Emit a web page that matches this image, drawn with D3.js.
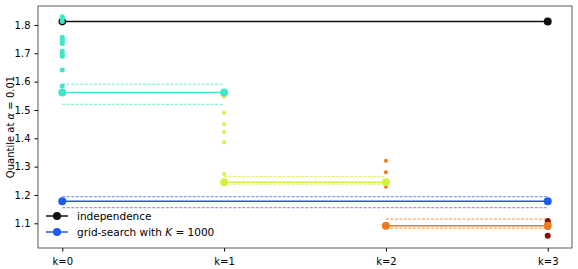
<!DOCTYPE html>
<html>
<head>
<meta charset="utf-8">
<style>
body { margin: 0; background: #fff; }
text { font-family: "DejaVu Sans", sans-serif; }
</style>
</head>
<body>
<script src="https://cdn.jsdelivr.net/npm/d3@7"></script>
<script>
'use strict'

const w = 578
const h = 269
const margin = { top: 6, right: 6, bottom: 21, left: 38 }

const kLabels = ['k=0', 'k=1', 'k=2', 'k=3']
const stepColors = ['#3ee8c6', '#d2f23c', '#f07a1e', '#8a0c04']

// scatter samples per k
const samples = [
  [1.829, 1.822, 1.812, 1.757, 1.750, 1.742, 1.735, 1.707, 1.697, 1.690, 1.641, 1.585],
  [1.547, 1.490, 1.450, 1.423, 1.386, 1.274],
  [1.321, 1.280, 1.229],
  [1.108, 1.098, 1.088, 1.056]
]

// step levels between k and k+1, with band
const stepLevel = [1.562, 1.245, 1.0915]
const stepUpper = [1.591, 1.265, 1.115]
const stepLower = [1.520, 1.238, 1.083]

const independence = 1.812
const gridSearch = 1.178
const gridUpper = 1.194
const gridLower = 1.155

const yTicks = [1.1, 1.2, 1.3, 1.4, 1.5, 1.6, 1.7, 1.8]

const svg = d3.select('body').append('svg')
  .attr('width', w)
  .attr('height', h)

const x = d3.scaleLinear()
  .domain([-0.15, 3.15])
  .range([margin.left, w - margin.right])

const y = d3.scaleLinear()
  .domain([1.0128, 1.867])
  .range([h - margin.bottom, margin.top])

// axes
svg.append('g')
  .attr('transform', `translate(0,${h - margin.bottom})`)
  .call(d3.axisBottom(x).tickValues([0, 1, 2, 3]).tickFormat(d => kLabels[d]).tickSizeOuter(0).tickSize(3.5))
  .call(g => g.select('.domain').remove())
  .selectAll('text').attr('font-size', 10).attr('dy', '1.05em')

svg.append('g')
  .attr('transform', `translate(${margin.left},0)`)
  .call(d3.axisLeft(y).tickValues(yTicks).tickFormat(d3.format('.1f')).tickSizeOuter(0).tickSize(3.5))
  .call(g => g.select('.domain').remove())
  .selectAll('text').attr('font-size', 10).attr('dx', '-0.1em')

svg.append('rect')
  .attr('x', margin.left)
  .attr('y', margin.top)
  .attr('width', w - margin.left - margin.right)
  .attr('height', h - margin.top - margin.bottom)
  .attr('fill', 'none')
  .attr('stroke', '#333')
  .attr('stroke-width', 0.8)

// y label
svg.append('text')
  .attr('transform', `translate(14,${(margin.top + h - margin.bottom) / 2}) rotate(-90)`)
  .attr('text-anchor', 'middle')
  .attr('font-size', 10)
  .call(t => {
    t.append('tspan').text('Quantile at ')
    t.append('tspan').attr('font-style', 'italic').text('α')
    t.append('tspan').text(' = 0.01')
  })

const plot = svg.append('g')

// independence
plot.append('line')
  .attr('x1', x(0)).attr('x2', x(3))
  .attr('y1', y(independence)).attr('y2', y(independence))
  .attr('stroke', '#111').attr('stroke-width', 1.5)
plot.selectAll('circle.ind')
  .data([0, 3])
  .enter().append('circle')
  .attr('cx', d => x(d)).attr('cy', y(independence))
  .attr('r', d => d === 0 ? 3.8 : 4).attr('fill', '#111')

// grid-search band
const blue = '#1a5cf0'
;[gridUpper, gridLower].forEach(v => {
  plot.append('line')
    .attr('x1', x(0)).attr('x2', x(3))
    .attr('y1', y(v)).attr('y2', y(v))
    .attr('stroke', blue).attr('stroke-opacity', 0.7)
    .attr('stroke-width', 1).attr('stroke-dasharray', '3,1.5')
})
plot.append('line')
  .attr('x1', x(0)).attr('x2', x(3))
  .attr('y1', y(gridSearch)).attr('y2', y(gridSearch))
  .attr('stroke', blue).attr('stroke-width', 1.5)
plot.selectAll('circle.grid')
  .data([0, 3])
  .enter().append('circle')
  .attr('cx', d => x(d)).attr('cy', y(gridSearch))
  .attr('r', 4).attr('fill', blue)

// scatter samples
samples.forEach((vals, k) => {
  plot.selectAll(null)
    .data(vals)
    .enter().append('circle')
    .attr('cx', x(k)).attr('cy', d => y(d))
    .attr('r', k === 3 ? 3 : k === 0 ? 2.5 : 2)
    .attr('fill', stepColors[k])
})

// steps
stepLevel.forEach((lvl, k) => {
  const c = stepColors[k]
  ;[stepUpper[k], stepLower[k]].forEach(v => {
    plot.append('line')
      .attr('x1', x(k)).attr('x2', x(k + 1))
      .attr('y1', y(v)).attr('y2', y(v))
      .attr('stroke', c).attr('stroke-opacity', 0.8)
      .attr('stroke-width', 1).attr('stroke-dasharray', '3,1.5')
  })
  plot.append('line')
    .attr('x1', x(k)).attr('x2', x(k + 1))
    .attr('y1', y(lvl)).attr('y2', y(lvl))
    .attr('stroke', c).attr('stroke-width', 1.5)
  plot.selectAll(null)
    .data([k, k + 1])
    .enter().append('circle')
    .attr('cx', d => x(d)).attr('cy', y(lvl))
    .attr('r', 4).attr('fill', c)
})

// legend
const legend = svg.append('g').attr('transform', `translate(${margin.left + 8},0)`)
const legendItems = [
  { color: '#111', y: 216, label: t => t.append('tspan').text('independence') },
  { color: blue, y: 232, label: t => {
    t.append('tspan').text('grid-search with ')
    t.append('tspan').attr('font-style', 'italic').text('K')
    t.append('tspan').text(' = 1000')
  } }
]
legendItems.forEach(d => {
  legend.append('line')
    .attr('x1', 0).attr('x2', 22)
    .attr('y1', d.y).attr('y2', d.y)
    .attr('stroke', d.color).attr('stroke-width', 1.5)
  legend.append('circle')
    .attr('cx', 11).attr('cy', d.y).attr('r', 4).attr('fill', d.color)
  legend.append('text')
    .attr('x', 31).attr('y', d.y + 3.5)
    .attr('font-size', 10.5)
    .call(d.label)
})
</script>
</body>
</html>
